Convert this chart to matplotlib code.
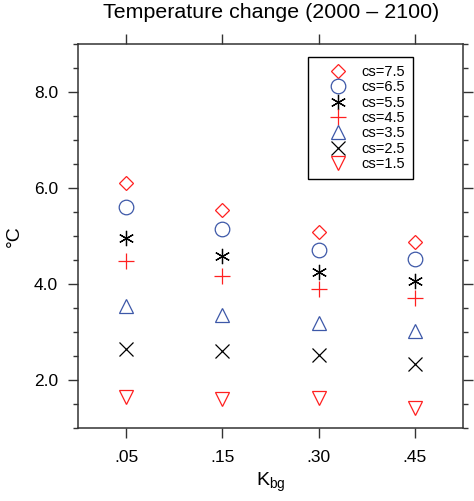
import matplotlib
matplotlib.use("Agg")
import matplotlib.pyplot as plt
from matplotlib.ticker import MultipleLocator

plt.rcParams['font.family'] = ['Liberation Sans', 'DejaVu Sans']
plt.rcParams['mathtext.default'] = 'regular'

# K_bg categories on the x axis
kbg_labels = ['.05', '.15', '.30', '.45']

# warming (degC) for each climate sensitivity
cs_labels = ['cs=7.5', 'cs=6.5', 'cs=5.5', 'cs=4.5', 'cs=3.5', 'cs=2.5', 'cs=1.5']
cs75 = [6.10, 5.55, 5.08, 4.87]
cs65 = [5.61, 5.14, 4.72, 4.52]
cs55 = [4.97, 4.58, 4.25, 4.07]
cs45 = [4.48, 4.16, 3.89, 3.72]
cs35 = [3.54, 3.36, 3.20, 3.02]
cs25 = [2.65, 2.60, 2.53, 2.33]
cs15 = [1.65, 1.62, 1.64, 1.43]

red = '#ff2020'
blue = '#3d58a8'
styles = [('D', red, 7.2), ('o', blue, 10.5), ((6, 2, 0), 'black', 11),
          ('+', red, 11), ('^', blue, 10.5), ('x', 'black', 10), ('v', red, 10.5)]
series = [cs75, cs65, cs55, cs45, cs35, cs25, cs15]

fig = plt.figure(figsize=(4.74, 5.01), dpi=100)
ax = fig.add_axes([0.1646, 0.1451, 0.8122, 0.7671])

x = list(range(len(kbg_labels)))
for (m, c, ms), y, lab in zip(styles, series, cs_labels):
    ax.plot(x, y, linestyle='none', marker=m, markersize=ms, color=c,
            markerfacecolor='none', markeredgecolor=c, markeredgewidth=0.9,
            label=lab)

ax.set_xlim(-0.5, 3.5)
ax.set_ylim(1, 9)
ax.set_xticks(x)
ax.set_xticklabels(kbg_labels)
ax.yaxis.set_minor_locator(MultipleLocator(0.5))
ax.set_yticks([2, 4, 6, 8])
ax.yaxis.set_major_formatter('{x:.1f}')

ax.tick_params(axis='both', which='both', direction='out', top=True, right=True,
               labelsize=12.5, width=1.0, color='#333333')
ax.tick_params(axis='both', which='major', length=7.3)
ax.tick_params(axis='y', which='minor', length=3.8)
ax.tick_params(axis='x', pad=8.5)
ax.tick_params(axis='y', pad=7)
for s in ax.spines.values():
    s.set_linewidth(1.1)
    s.set_color('#333333')

ax.set_xlabel('K$_{bg}$', fontsize=14, labelpad=4)
ax.set_ylabel('°C', fontsize=14, labelpad=8)
fig.text(0.572, 0.976, 'Temperature change (2000 – 2100)', fontsize=15.4,
         ha='center', va='center')

leg = ax.legend(loc='upper left', bbox_to_anchor=(0.597, 0.966), borderaxespad=0,
                fancybox=False, edgecolor='black', framealpha=1, fontsize=10.5,
                handlelength=3.0, handletextpad=0.15, labelspacing=0.09,
                borderpad=0.55, numpoints=1)
leg.get_frame().set_linewidth(1.0)

fig.savefig('out.png', dpi=100)
